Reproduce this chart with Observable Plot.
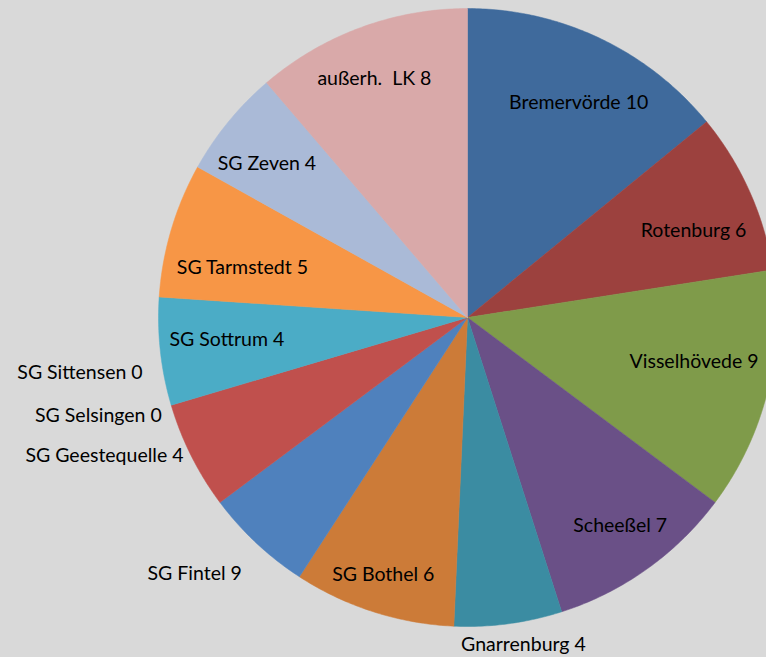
<!DOCTYPE html>
<html>
<head>
<meta charset="utf-8">
<script src="https://cdn.jsdelivr.net/npm/d3@7"></script>
<script src="https://cdn.jsdelivr.net/npm/@observablehq/plot@0.6"></script>
<style>
  html, body { margin: 0; padding: 0; background: #d9d9d9; }
  #chart svg { display: block; }
</style>
</head>
<body>
<div id="chart"></div>
<script>
// ---- data ----
const categories = ["Bremervörde", "Rotenburg", "Visselhövede", "Scheeßel", "Gnarrenburg", "SG Bothel",
  "SG Fintel", "SG Geestequelle", "SG Selsingen", "SG Sittensen", "SG Sottrum", "SG Tarmstedt", "SG Zeven", "außerh.  LK"];
const values = [10, 6, 9, 7, 4, 6, 4, 4, 0, 0, 4, 5, 4, 8];
// data labels as printed on the chart
const labels = ["Bremervörde 10", "Rotenburg 6", "Visselhövede 9", "Scheeßel 7", "Gnarrenburg 4", "SG Bothel 6",
  "SG Fintel 9", "SG Geestequelle 4", "SG Selsingen 0", "SG Sittensen 0", "SG Sottrum 4", "SG Tarmstedt 5", "SG Zeven 4", "außerh.  LK 8"];
const colors = ["#3f6a9c", "#9c413e", "#7f9b4a", "#6a5087", "#3b8ca2", "#cc7b38",
  "#4f81bd", "#c0504d", "#9bbb59", "#8064a2", "#4bacc6", "#f79646", "#aabad7", "#d9a9a9"];

// ---- layout (label placement relative to slice mid-angle) ----
const labelRadius = [0.783, 0.784, 0.747, 0.835, 1.074, 0.875, 1.211, 1.257, 1.236, 1.267, 0.782, 0.746, 0.818, 0.830];
const labelShift = [2.0, 3.0, -2.9, -0.8, -2.1, 0.4, 3.7, 5.8, 1.6, 8.3, 1.1, -4.0, -1.8, -1.0];
const W = 766, H = 657, cx = 467, cy = 317, R = 309;

const total = d3.sum(values);
let acc = 0;
const slices = values.map((v, i) => {
  const a0 = acc / total * 2 * Math.PI;
  acc += v;
  const a1 = acc / total * 2 * Math.PI;
  return {i, a0, a1, mid: (a0 + a1) / 2};
});

function wedge(s) {
  const pts = [{x: 0, y: 0}];
  const n = Math.max(2, Math.ceil((s.a1 - s.a0) / 0.01));
  for (let k = 0; k <= n; k++) {
    const a = s.a0 + (s.a1 - s.a0) * k / n;
    pts.push({x: Math.sin(a), y: Math.cos(a)});
  }
  pts.push({x: 0, y: 0});
  return pts;
}

const labelData = slices.map(s => {
  const a = s.mid + labelShift[s.i] * Math.PI / 180;
  const r = labelRadius[s.i];
  return {x: r * Math.sin(a), y: r * Math.cos(a), text: labels[s.i]};
});

const chart = Plot.plot({
  width: W,
  height: H,
  margin: 0,
  x: {domain: [-cx / R, (W - cx) / R], axis: null},
  y: {domain: [-(H - cy) / R, cy / R], axis: null},
  style: {background: "#d9d9d9", fontFamily: "Lato, sans-serif"},
  marks: [
    ...slices.filter(s => values[s.i] > 0).map(s =>
      Plot.line(wedge(s), {x: "x", y: "y", fill: colors[s.i], stroke: colors[s.i], strokeWidth: 0.5})
    ),
    Plot.text(labelData, {x: "x", y: "y", text: "text", fontSize: 19.5, fill: "#000"})
  ]
});
document.getElementById("chart").append(chart);
</script>
</body>
</html>
